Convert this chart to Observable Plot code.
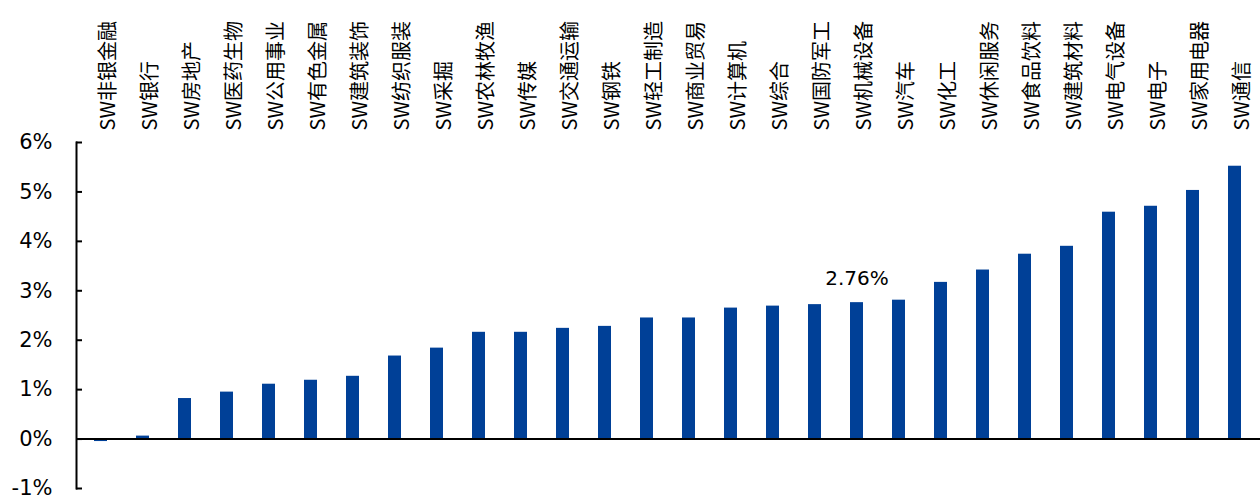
<!DOCTYPE html>
<html>
<head>
<meta charset="utf-8">
<script src="https://cdn.jsdelivr.net/npm/d3@7"></script>
<script src="https://cdn.jsdelivr.net/npm/@observablehq/plot@0.6"></script>
<style>
  html, body { margin: 0; padding: 0; background: #fff; }
</style>
</head>
<body>
<div id="chart"></div>
<script>
const categories = ["SW非银金融","SW银行","SW房地产","SW医药生物","SW公用事业","SW有色金属","SW建筑装饰","SW纺织服装","SW采掘","SW农林牧渔","SW传媒","SW交通运输","SW钢铁","SW轻工制造","SW商业贸易","SW计算机","SW综合","SW国防军工","SW机械设备","SW汽车","SW化工","SW休闲服务","SW食品饮料","SW建筑材料","SW电气设备","SW电子","SW家用电器","SW通信"];
const values = [-0.05, 0.06, 0.82, 0.95, 1.11, 1.19, 1.27, 1.68, 1.84, 2.16, 2.16, 2.24, 2.28, 2.45, 2.45, 2.65, 2.69, 2.72, 2.76, 2.81, 3.17, 3.42, 3.74, 3.90, 4.59, 4.71, 5.03, 5.52];
const yTicks = [-1, 0, 1, 2, 3, 4, 5, 6];
const highlight = "SW机械设备";

const data = categories.map((c, i) => ({cat: c, v: values[i]}));

const chart = Plot.plot({
  width: 1260,
  height: 502,
  marginLeft: 76,
  marginRight: 0,
  marginTop: 142,
  marginBottom: 14,
  style: {fontFamily: "'DejaVu Sans', Verdana, sans-serif", background: "#fff"},
  x: {domain: categories, paddingInner: 0.68, paddingOuter: 0.34, axis: null},
  y: {domain: [-1, 6], ticks: yTicks, label: null},
  marks: [
    Plot.barY(data, {x: "cat", y: "v", fill: "#004097"}),
    Plot.ruleY([0], {stroke: "#000", strokeWidth: 2}),
    Plot.frame({anchor: "left", stroke: "#000", strokeWidth: 2}),
    Plot.axisY({ticks: yTicks, tickSize: -6, strokeWidth: 2, text: null, label: null}),
    Plot.axisY({ticks: yTicks, tickSize: 0, tickPadding: 24, tickFormat: d => d + "%", fontSize: 21, fill: "#000", label: null}),
    Plot.text(data, {x: "cat", frameAnchor: "top", dy: -12, text: "cat", rotate: -90, textAnchor: "start", fontSize: 20, fontFamily: "'Noto Sans CJK SC', sans-serif", fill: "#000", ariaLabel: "cat-labels"}),
    Plot.text(data.filter(d => d.cat === highlight), {x: "cat", y: "v", text: d => d.v.toFixed(2) + "%", dy: -18, lineAnchor: "bottom", fontSize: 20, fill: "#000"})
  ]
});
chart.querySelectorAll('g[aria-label="cat-labels"] text').forEach(t => t.setAttribute("letter-spacing", "1.5"));
document.getElementById("chart").appendChild(chart);
</script>
</body>
</html>
